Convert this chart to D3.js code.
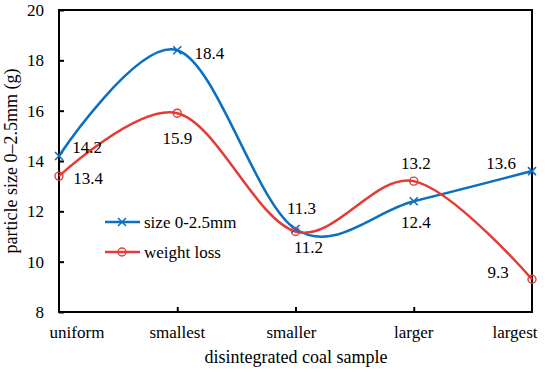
<!DOCTYPE html>
<html>
<head>
<meta charset="utf-8">
<script src="https://cdn.jsdelivr.net/npm/d3@7"></script>
<style>
  body { margin: 0; background: #fff; }
</style>
</head>
<body>
<svg id="chart" width="550" height="372"></svg>
<script>
var categories = ["uniform", "smallest", "smaller", "larger", "largest"]
var sizeValues = [14.2, 18.4, 11.3, 12.4, 13.6]
var lossValues = [13.4, 15.9, 11.2, 13.2, 9.3]
var yTicks = [8, 10, 12, 14, 16, 18, 20]

var margin = {top: 10, right: 18, bottom: 60, left: 59}
var width = 550, height = 372
var blue = "#0B70C2", red = "#E43B36"
var serif = "Liberation Serif"

var svg = d3.select("#chart")

var x = d3.scalePoint()
  .domain(categories)
  .range([margin.left, width - margin.right])

var y = d3.scaleLinear()
  .domain([8, 20])
  .range([height - margin.bottom, margin.top])

// frame
svg.append("rect")
  .attr("x", margin.left)
  .attr("y", margin.top)
  .attr("width", width - margin.right - margin.left)
  .attr("height", height - margin.bottom - margin.top)
  .attr("fill", "none")
  .attr("stroke", "#000")
  .attr("stroke-width", 2)

// y axis, ticks inside
var yAxis = svg.append("g")
  .attr("transform", `translate(${margin.left},0)`)
  .call(d3.axisRight(y).tickValues(yTicks).tickSize(5).tickFormat(""))
yAxis.select(".domain").remove()
yAxis.selectAll("line").attr("stroke", "#000").attr("stroke-width", 2)

svg.selectAll(".yLabel")
  .data(yTicks)
  .enter().append("text")
  .attr("class", "yLabel")
  .attr("x", margin.left - 15)
  .attr("y", d => y(d))
  .attr("dy", "0.35em")
  .attr("text-anchor", "end")
  .attr("font-family", serif)
  .attr("font-size", 17)
  .text(d => d)

// x axis, ticks inside for middle categories
var xAxis = svg.append("g")
  .attr("transform", `translate(0,${height - margin.bottom})`)
  .call(d3.axisTop(x).tickValues(categories.slice(1, -1)).tickSize(5).tickFormat(""))
xAxis.select(".domain").remove()
xAxis.selectAll("line").attr("stroke", "#000").attr("stroke-width", 2)

// tick labels nudged inward at the ends like the source
var labelShift = {uniform: 18, largest: -17, smaller: -4}
svg.selectAll(".xLabel")
  .data(categories)
  .enter().append("text")
  .attr("class", "xLabel")
  .attr("x", d => x(d) + (labelShift[d] || 0))
  .attr("y", 338)
  .attr("text-anchor", "middle")
  .attr("font-family", serif)
  .attr("font-size", 17)
  .text(d => d)

svg.append("text")
  .attr("x", 296)
  .attr("y", 363)
  .attr("text-anchor", "middle")
  .attr("font-family", serif)
  .attr("font-size", 18)
  .text("disintegrated coal sample")

svg.append("text")
  .attr("transform", `translate(17,${(margin.top + height - margin.bottom) / 2}) rotate(-90)`)
  .attr("text-anchor", "middle")
  .attr("font-family", serif)
  .attr("font-size", 18)
  .text("particle size 0\u20132.5mm (g)")

var line = d3.line()
  .x((d, i) => x(categories[i]))
  .y(d => y(d))
  .curve(d3.curveCardinal.tension(0))

svg.append("path")
  .datum(sizeValues)
  .attr("d", line)
  .attr("fill", "none")
  .attr("stroke", blue)
  .attr("stroke-width", 2.5)

svg.append("path")
  .datum(lossValues)
  .attr("d", line)
  .attr("fill", "none")
  .attr("stroke", red)
  .attr("stroke-width", 2.5)

function crossMarker (g, cx, cy) {
  g.append("path")
    .attr("d", `M${cx-4},${cy-4}L${cx+4},${cy+4}M${cx-4},${cy+4}L${cx+4},${cy-4}`)
    .attr("stroke", blue)
    .attr("stroke-width", 1.6)
    .attr("fill", "none")
}

function circleMarker (g, cx, cy) {
  g.append("circle")
    .attr("cx", cx)
    .attr("cy", cy)
    .attr("r", 4)
    .attr("fill", "none")
    .attr("stroke", red)
    .attr("stroke-width", 1.4)
}

var markers = svg.append("g")
sizeValues.forEach((v, i) => crossMarker(markers, x(categories[i]), y(v)))
lossValues.forEach((v, i) => circleMarker(markers, x(categories[i]), y(v)))

// data labels: offsets relative to each point
var sizeOffsets = [[28, -9], [32, 3], [6, -21], [2, 21], [-31, -8]]
var lossOffsets = [[29, 2], [0, 25], [13, 16], [2, -18], [-34, -7]]

svg.selectAll(".sizeLabel")
  .data(sizeValues)
  .enter().append("text")
  .attr("class", "sizeLabel")
  .attr("x", (d, i) => x(categories[i]) + sizeOffsets[i][0])
  .attr("y", (d, i) => y(d) + sizeOffsets[i][1])
  .attr("dy", "0.35em")
  .attr("text-anchor", "middle")
  .attr("font-family", serif)
  .attr("font-size", 17)
  .text(d => d.toFixed(1))

svg.selectAll(".lossLabel")
  .data(lossValues)
  .enter().append("text")
  .attr("class", "lossLabel")
  .attr("x", (d, i) => x(categories[i]) + lossOffsets[i][0])
  .attr("y", (d, i) => y(d) + lossOffsets[i][1])
  .attr("dy", "0.35em")
  .attr("text-anchor", "middle")
  .attr("font-family", serif)
  .attr("font-size", 17)
  .text(d => d.toFixed(1))

// legend
var legend = svg.append("g")
legend.append("line")
  .attr("x1", 105).attr("x2", 140).attr("y1", 222).attr("y2", 222)
  .attr("stroke", blue).attr("stroke-width", 2.5)
crossMarker(legend, 122, 222)
legend.append("text")
  .attr("x", 144).attr("y", 222).attr("dy", "0.35em")
  .attr("font-family", serif)
  .attr("font-size", 17)
  .text("size 0-2.5mm")

legend.append("line")
  .attr("x1", 105).attr("x2", 140).attr("y1", 252).attr("y2", 252)
  .attr("stroke", red).attr("stroke-width", 2.5)
circleMarker(legend, 122, 252)
legend.append("text")
  .attr("x", 144).attr("y", 252).attr("dy", "0.35em")
  .attr("font-family", serif)
  .attr("font-size", 17)
  .text("weight loss")
</script>
</body>
</html>
